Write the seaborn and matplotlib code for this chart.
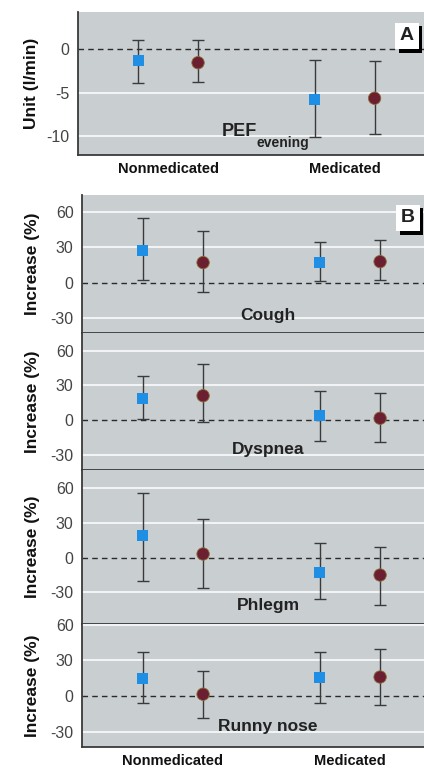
import pandas as pd
import seaborn as sns
import matplotlib.pyplot as plt
import matplotlib.patheffects as pe

# ---- data ----
groups = ['Nonmedicated', 'Medicated']
series = ['square', 'circle']

# panel A: PEF evening, unit l/min  (order: NM-square, NM-circle, M-square, M-circle)
pef_est = [-1.35, -1.55, -5.77, -5.65]
pef_lo = [-3.85, -3.74, -10.08, -9.8]
pef_hi = [1.07, 1.07, -1.23, -1.35]

# panel B: symptoms, increase in %
cough_est = [27, 17, 17, 17.8]
cough_lo = [2.3, -7.6, 1.5, 2]
cough_hi = [55, 44, 34, 36]

dyspnea_est = [18.7, 21, 4.3, 1.5]
dyspnea_lo = [1, -2, -18, -18.7]
dyspnea_hi = [38, 48.5, 25.4, 23.6]

phlegm_est = [18.8, 3.2, -13, -15]
phlegm_lo = [-20, -26.5, -35.7, -41]
phlegm_hi = [55.7, 33.5, 12.5, 9.5]

runny_est = [15, 1.5, 16, 16]
runny_lo = [-6, -18.8, -5.6, -7.6]
runny_hi = [37.4, 21.3, 37.4, 39.7]

pef_ticks = [0, -5, -10]
sym_ticks = [60, 30, 0, -30]

BG = '#c9ced1'
BLUE = '#1f8fe6'
MAROON = '#6b1f30'
FONT = ['Liberation Sans', 'DejaVu Sans']

W, H = 424, 768


def frac_box(left, top, right, bottom):
    return [left / W, 1 - bottom / H, (right - left) / W, (bottom - top) / H]


def make_frame(est, lo, hi):
    rows = []
    i = 0
    for g in groups:
        for s in series:
            rows.append({'group': g, 'series': s, 'est': est[i], 'lo': lo[i], 'hi': hi[i]})
            i += 1
    df = pd.DataFrame(rows)
    offs = {'square': -0.17, 'circle': 0.17}
    df['xpos'] = df['group'].map({g: k for k, g in enumerate(groups)}) + df['series'].map(offs)
    return df


def draw_panel(ax, df, ticks, ylim, xlim):
    ax.set_facecolor(BG)
    for t in ticks:
        if t != 0:
            ax.axhline(t, color='white', lw=1.1, zorder=1)
    ax.axhline(0, color='#2a2a2a', lw=1, ls=(0, (4, 3)), zorder=2)
    ax.errorbar(df['xpos'], df['est'], yerr=[df['est'] - df['lo'], df['hi'] - df['est']],
                fmt='none', ecolor='#3a3a3a', elinewidth=1, capsize=4, capthick=1, zorder=3)
    sns.scatterplot(data=df, x='xpos', y='est', hue='series', style='series', size='series',
                    palette={'square': BLUE, 'circle': MAROON},
                    markers={'square': 's', 'circle': 'o'},
                    sizes={'square': 63, 'circle': 80},
                    edgecolor='none', legend=False, ax=ax, zorder=4)
    # thin yellowish rim on the circles like the printed figure
    circ = df[df['series'] == 'circle']
    ax.scatter(circ['xpos'], circ['est'], s=80, facecolor='none', edgecolor='#8c6d38',
               linewidth=0.6, zorder=5)
    ax.set_xlim(*xlim)
    ax.set_ylim(*ylim)
    ax.set_yticks(ticks)
    ax.set_yticklabels([str(t) for t in ticks])
    ax.set_xlabel('')
    ax.set_ylabel('')
    ax.tick_params(length=0, pad=6, labelsize=11.5, labelcolor='#444444')
    for lab in ax.get_yticklabels():
        lab.set_family(FONT)
    ax.spines['right'].set_visible(False)
    ax.spines['top'].set_visible(False)
    for sp in ['left', 'bottom']:
        ax.spines[sp].set_color('#3a3a3a')
        ax.spines[sp].set_linewidth(1.3)


def letter_box(ax, x, y, s):
    t = ax.text(x, y, s, transform=ax.transAxes, ha='center', va='center',
                fontsize=14, fontweight='bold', color='#222222', family=FONT, zorder=6,
                bbox=dict(boxstyle='square,pad=0.25', fc='white', ec='none'))
    t.get_bbox_patch().set_path_effects([
        pe.withSimplePatchShadow(offset=(2.5, -2.5), shadow_rgbFace='black', alpha=1)])


def set_xlabels(ax):
    ax.set_xticks([0, 1])
    ax.set_xticklabels(groups)
    for lab in ax.get_xticklabels():
        lab.set_family(FONT)
        lab.set_fontweight('bold')
        lab.set_color('#111111')
        lab.set_fontsize(10.5)
    ax.tick_params(axis='x', pad=5)


fig = plt.figure(figsize=(W / 100, H / 100), dpi=100)

# ---- panel A ----
axA = fig.add_axes(frac_box(78, 12, 424, 155))
draw_panel(axA, make_frame(pef_est, pef_lo, pef_hi), pef_ticks, (-12.2, 4.3), (-0.51, 1.45))
set_xlabels(axA)
axA.set_ylabel('Unit (l/min)', fontsize=12.5, fontweight='bold', family=FONT, color='#111111')
axA.yaxis.set_label_coords((39 - 78) / 346, 0.5)
axA.text(0.517, 0.161, 'PEF', transform=axA.transAxes, ha='right', va='center',
         fontsize=13, fontweight='bold', color='#222222', family=FONT)
axA.text(0.517, 0.085, 'evening', transform=axA.transAxes, ha='left', va='center',
         fontsize=10, fontweight='bold', color='#222222', family=FONT)
letter_box(axA, (407 - 78) / 346, (155 - 36) / 143, 'A')

# ---- panel B ----
b_panels = [
    ('Cough', cough_est, cough_lo, cough_hi, 195, 333, (-42.5, 74.1), 0.13),
    ('Dyspnea', dyspnea_est, dyspnea_lo, dyspnea_hi, 333, 470, (-43.3, 75.3), 0.153),
    ('Phlegm', phlegm_est, phlegm_lo, phlegm_hi, 470, 624, (-57.4, 75.9), 0.123),
    ('Runny nose', runny_est, runny_lo, runny_hi, 624, 747, (-43, 60.7), 0.17),
]
axes_b = []
for name, est, lo, hi, top, bot, ylim, ty in b_panels:
    ax = fig.add_axes(frac_box(82, top, 424, bot))
    draw_panel(ax, make_frame(est, lo, hi), sym_ticks, ylim, (-0.514, 1.418))
    ax.set_xticks([0, 1])
    ax.set_xticklabels(['', ''])
    ax.set_ylabel('Increase (%)', fontsize=12.5, fontweight='bold', family=FONT, color='#111111')
    ax.yaxis.set_label_coords((40 - 82) / 342, 0.5)
    ax.text(0.544, ty, name, transform=ax.transAxes, ha='center', va='center',
            fontsize=12.5, fontweight='bold', color='#222222', family=FONT)
    axes_b.append(ax)

set_xlabels(axes_b[-1])
letter_box(axes_b[0], (408 - 82) / 342, (333 - 218) / 138, 'B')

fig.savefig('out.png', dpi=100)
